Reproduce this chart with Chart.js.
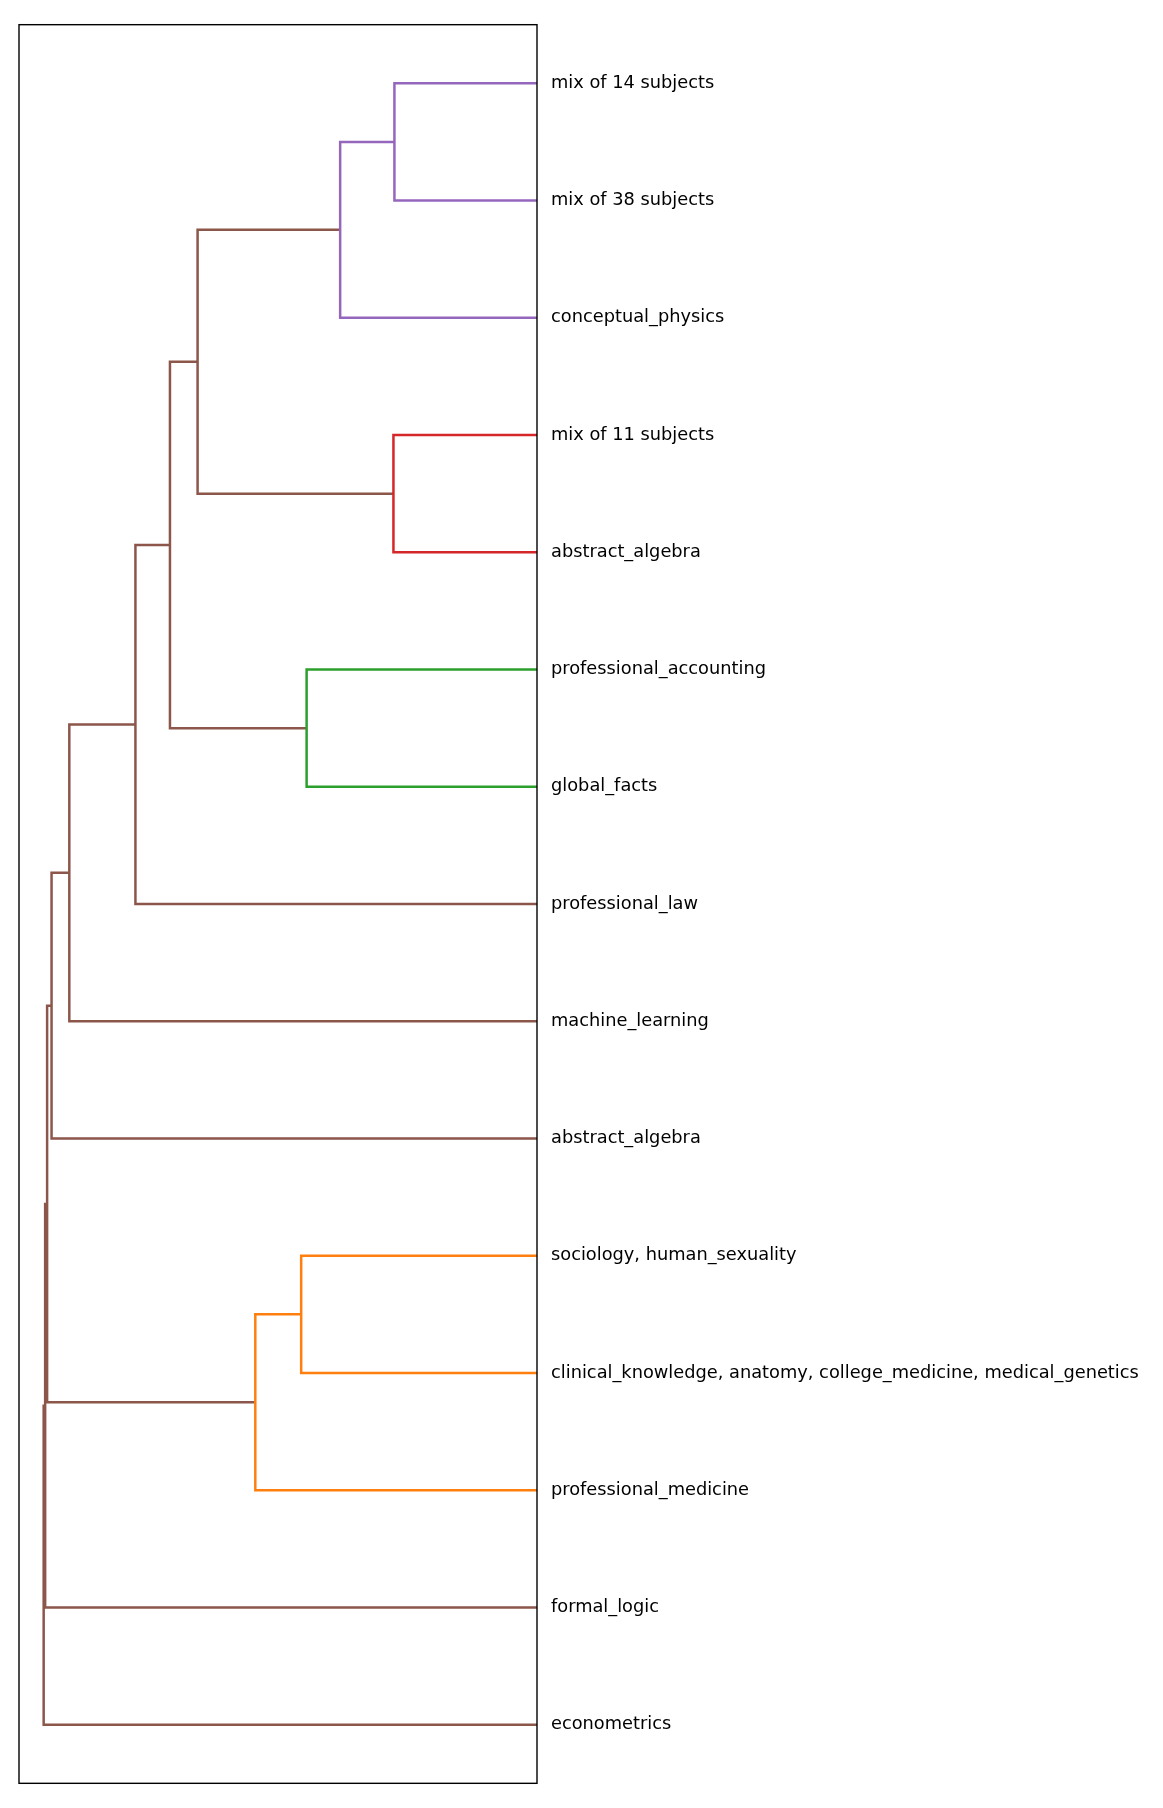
<!DOCTYPE html>
<html>
<head>
<meta charset="utf-8">
<script src="https://cdn.jsdelivr.net/npm/chart.js@4/dist/chart.umd.min.js"></script>
<style>
  html, body { margin: 0; padding: 0; background: #fff; }
  canvas { display: block; }
</style>
</head>
<body>
<canvas id="chart" width="1163" height="1808"></canvas>
<script>
// leaves, top to bottom
const leafLabels = [
  'mix of 14 subjects',
  'mix of 38 subjects',
  'conceptual_physics',
  'mix of 11 subjects',
  'abstract_algebra',
  'professional_accounting',
  'global_facts',
  'professional_law',
  'machine_learning',
  'abstract_algebra',
  'sociology, human_sexuality',
  'clinical_knowledge, anatomy, college_medicine, medical_genetics',
  'professional_medicine',
  'formal_logic',
  'econometrics',
];

// linkage: merge k creates cluster id leafLabels.length + k
const mergeLeft = [0, 15, 3, 16, 5, 18, 20, 21, 22, 10, 24, 23, 26, 27];
const mergeRight = [1, 2, 4, 17, 6, 19, 7, 8, 9, 11, 12, 25, 13, 14];
const mergeDistance = [0.289, 0.399, 0.291, 0.688, 0.467, 0.744, 0.814, 0.948, 0.984, 0.478, 0.571, 0.993, 0.997, 1.0];
const mergeColor = ['C4', 'C4', 'C3', 'C5', 'C2', 'C5', 'C5', 'C5', 'C5', 'C1', 'C1', 'C5', 'C5', 'C5'];

const PALETTE = {
  C1: '#ff7f0e',
  C2: '#2ca02c',
  C3: '#d62728',
  C4: '#9467bd',
  C5: '#8c564b',
};

function buildLinks() {
  const n = leafLabels.length;
  const pos = leafLabels.map((_, i) => i);
  const height = leafLabels.map(() => 0);
  const links = [];
  mergeDistance.forEach((d, k) => {
    const a = mergeLeft[k];
    const b = mergeRight[k];
    links.push({
      color: PALETTE[mergeColor[k]],
      data: [
        { x: height[a], y: pos[a] },
        { x: d, y: pos[a] },
        { x: d, y: pos[b] },
        { x: height[b], y: pos[b] },
      ],
    });
    pos[n + k] = (pos[a] + pos[b]) / 2;
    height[n + k] = d;
  });
  return links;
}

const frame = {
  id: 'frame',
  afterDraw(chart) {
    const { ctx, chartArea: a } = chart;
    ctx.save();
    ctx.strokeStyle = '#000';
    ctx.lineWidth = 1.4;
    ctx.strokeRect(a.left, a.top, a.right - a.left, a.bottom - a.top);
    ctx.restore();
  },
};

const links = buildLinks();
const maxDist = Math.max(...mergeDistance);

new Chart(document.getElementById('chart'), {
  type: 'scatter',
  data: {
    datasets: links.map((l) => ({
      data: l.data,
      showLine: true,
      borderColor: l.color,
      borderWidth: 2.5,
      pointRadius: 0,
      tension: 0,
      fill: false,
    })),
  },
  options: {
    responsive: false,
    animation: false,
    devicePixelRatio: 1,
    layout: { padding: { left: 19, top: 19, bottom: 19, right: 0 } },
    plugins: {
      legend: { display: false },
      tooltip: { enabled: false },
    },
    scales: {
      x: {
        type: 'linear',
        min: 0,
        max: maxDist * 1.05,
        reverse: true,
        display: false,
      },
      y: {
        type: 'linear',
        min: -0.5,
        max: leafLabels.length - 0.5,
        reverse: true,
        position: 'right',
        grid: { display: false, drawTicks: false },
        border: { display: false },
        afterBuildTicks: (scale) => {
          scale.ticks = leafLabels.map((_, i) => ({ value: i }));
        },
        afterFit: (scale) => {
          scale.width = 626;
        },
        ticks: {
          padding: 14,
          color: '#000',
          font: { family: 'DejaVu Sans', size: 17.8 },
          callback: (v) => leafLabels[v],
        },
      },
    },
  },
  plugins: [frame],
});
</script>
</body>
</html>
